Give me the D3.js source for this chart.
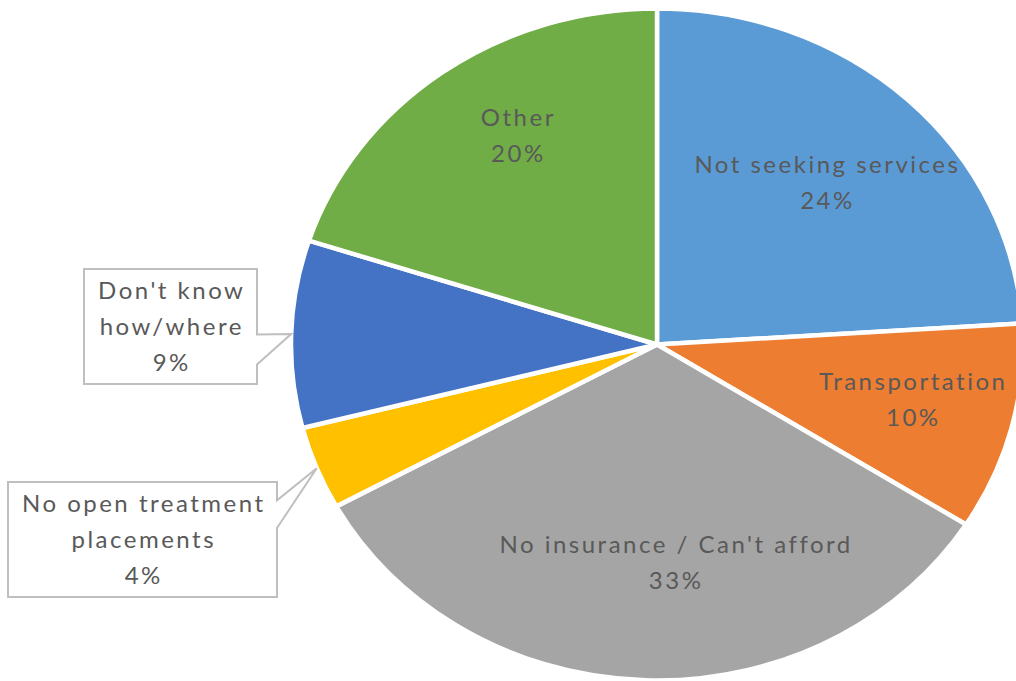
<!DOCTYPE html>
<html>
<head>
<meta charset="utf-8">
<script src="https://cdn.jsdelivr.net/npm/d3@7/dist/d3.min.js"></script>
<style>
  html, body { margin: 0; padding: 0; background: #fff; }
  svg { display: block; }
  text { font-family: Lato, "Open Sans", sans-serif; fill: #595959; }
</style>
</head>
<body>
<svg id="chart" width="1016" height="681"></svg>
<script>
// Reasons for not receiving treatment (share of responses, %)
const categories = [
  "Not seeking services",
  "Transportation",
  "No insurance / Can't afford",
  "No open treatment placements",
  "Don't know how/where",
  "Other"
];
const values = [24, 10, 33, 4, 9, 20];
const labelLines = [
  ["Not seeking services"],
  ["Transportation"],
  ["No insurance / Can't afford"],
  ["No open treatment", "placements"],
  ["Don't know", "how/where"],
  ["Other"]
];
const colors = ["#5B9BD5", "#ED7D31", "#A5A5A5", "#FFC000", "#4472C4", "#70AD47"];

// ---- layout ----
const W = 1016, H = 681;
const cx = 657, cy = 344.5;   // pie centre
const rx = 366, ry = 336;     // plot area is stretched horizontally
const fontSize = 24, lineStep = 36, tracking = 2.5;

// label placement: angular offset from slice mid-angle (deg) and radial fraction,
// or a callout box for the thin slices
const labelSpots = [
  { kind: "inside", dAngle: 0.5,  frac: 0.669 },
  { kind: "inside", dAngle: -1.1, frac: 0.716 },
  { kind: "inside", dAngle: -6.1, frac: 0.651 },
  { kind: "callout", box: { x: 8,  y: 482, w: 269, h: 115 }, base: [0.16, 0.40] },
  { kind: "callout", box: { x: 84, y: 269, w: 173, h: 115 }, base: [0.57, 0.83] },
  { kind: "inside", dAngle: 4.5,  frac: 0.7315 }
];

const data = categories.map((c, i) => ({ category: c, value: values[i], lines: labelLines[i], color: colors[i], spot: labelSpots[i] }));

const svg = d3.select("#chart");

const pie = d3.pie().value(d => d.value).sort(null);
const arcs = pie(data);
const arc = d3.arc().innerRadius(0).outerRadius(ry);

// slices: circle of radius ry, stretched horizontally into an ellipse
const pieG = svg.append("g")
  .attr("transform", `translate(${cx},${cy}) scale(${rx / ry},1)`);

pieG.selectAll("path.slice")
  .data(arcs)
  .join("path")
  .attr("class", "slice")
  .attr("d", arc)
  .attr("fill", d => d.data.color)
  .attr("stroke", "#fff")
  .attr("stroke-width", 4.5)
  .attr("stroke-linejoin", "round")
  .attr("vector-effect", "non-scaling-stroke");

// point on the ellipse at angle a (radians, clockwise from 12 o'clock), radial fraction f
const ellipsePoint = (a, f) => [cx + rx * f * Math.sin(a), cy - ry * f * Math.cos(a)];

const fmtPct = v => d3.format(".0f")(v / d3.sum(values) * 100) + "%";

function drawLines(g, lines, x, yCenter) {
  const n = lines.length;
  lines.forEach((t, i) => {
    const yMid = yCenter + (i - (n - 1) / 2) * lineStep;
    g.append("text")
      .attr("x", x + tracking / 2)   // trailing tracking would otherwise shift the centre
      .attr("y", yMid + fontSize * 0.36)
      .attr("text-anchor", "middle")
      .attr("font-size", fontSize)
      .attr("letter-spacing", tracking)
      .text(t);
  });
}

const labelG = svg.append("g");

arcs.forEach(a => {
  const d = a.data;
  const mid = (a.startAngle + a.endAngle) / 2;
  const lines = d.lines.concat([fmtPct(d.value)]);
  if (d.spot.kind === "inside") {
    const ang = mid + d.spot.dAngle * Math.PI / 180;
    const [x, y] = ellipsePoint(ang, d.spot.frac);
    drawLines(labelG, lines, x, y);
  } else {
    const b = d.spot.box;
    const [tx, ty] = ellipsePoint(mid, 1.0);
    const right = b.x + b.w, bottom = b.y + b.h;
    const y0 = b.y + b.h * d.spot.base[0], y1 = b.y + b.h * d.spot.base[1];
    const pts = [
      [b.x, b.y], [right, b.y], [right, y0], [tx, ty], [right, y1],
      [right, bottom], [b.x, bottom]
    ];
    labelG.append("path")
      .attr("d", d3.line()(pts) + "Z")
      .attr("fill", "#fff")
      .attr("stroke", "#BFBFBF")
      .attr("stroke-width", 2);
    drawLines(labelG, lines, b.x + b.w / 2, b.y + b.h / 2);
  }
});
</script>
</body>
</html>
